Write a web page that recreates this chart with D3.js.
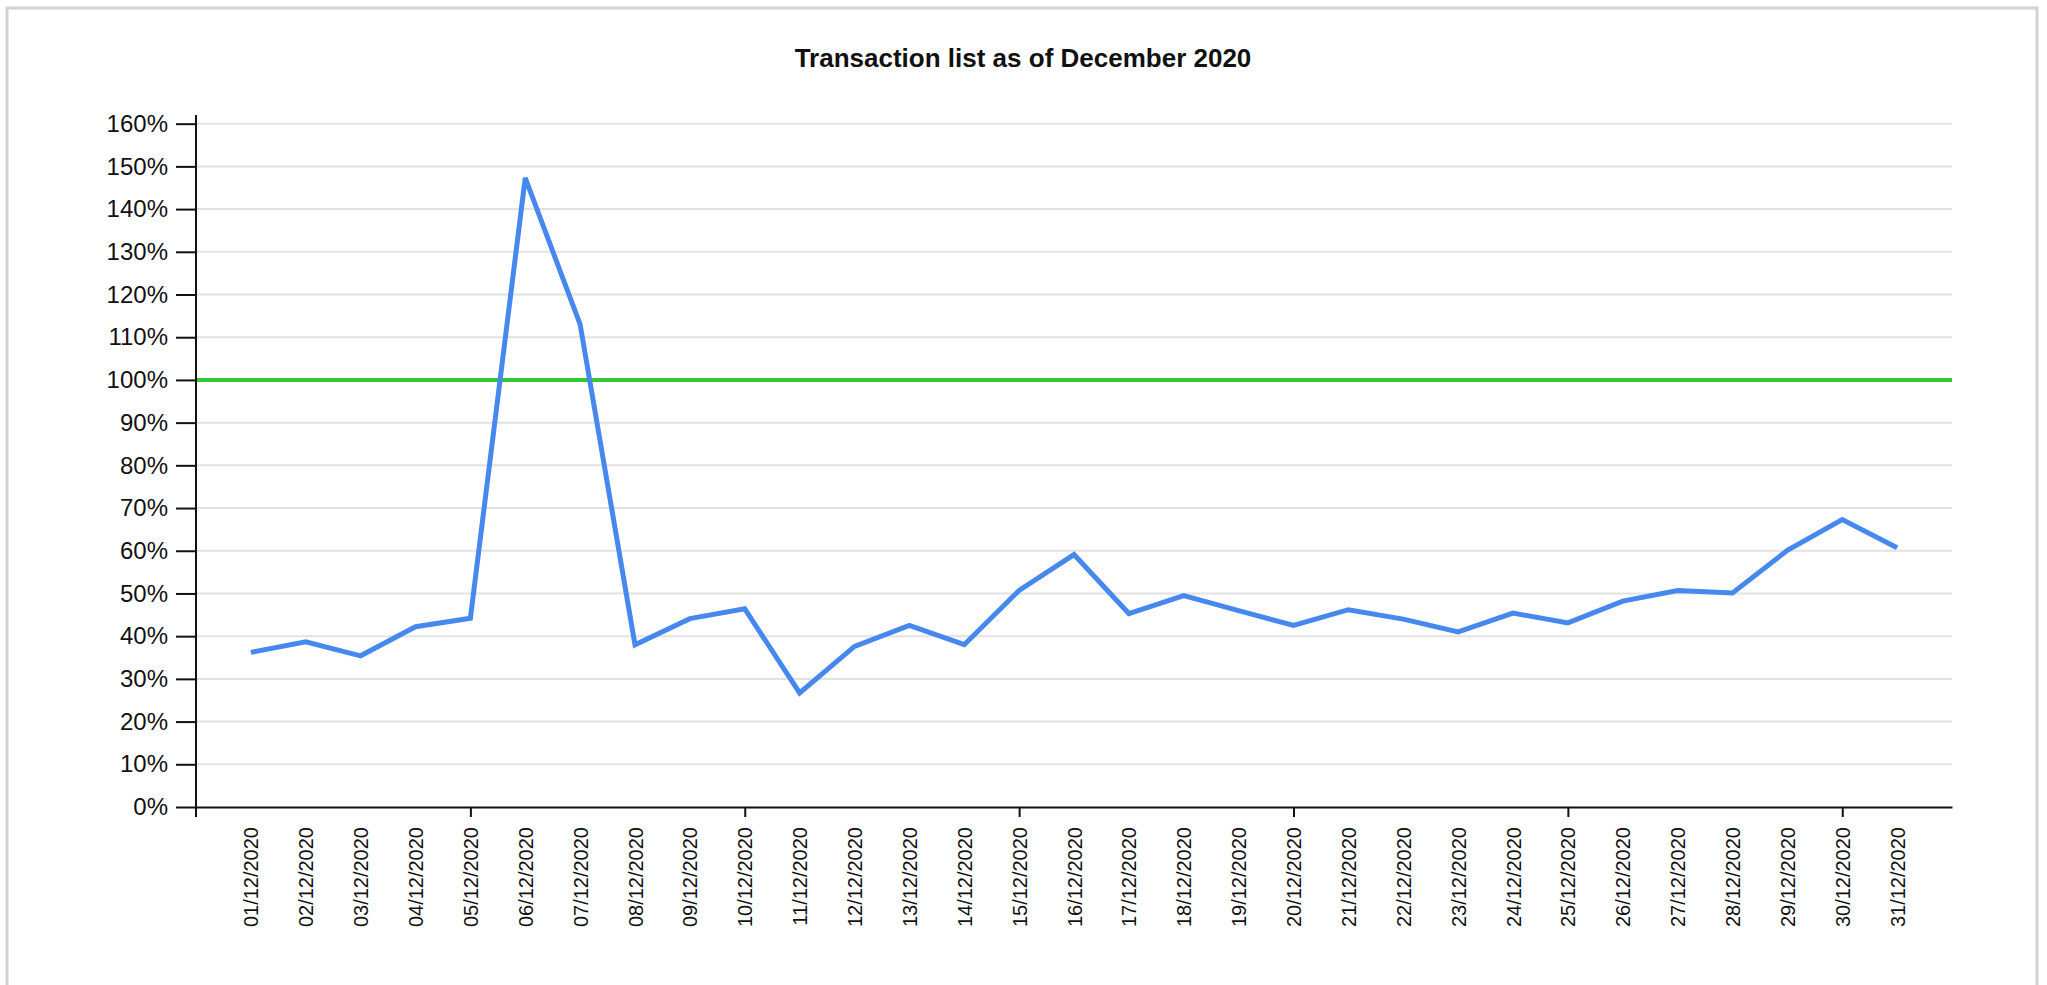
<!DOCTYPE html>
<html>
<head>
<meta charset="utf-8">
<script src="https://cdn.jsdelivr.net/npm/d3@7"></script>
<style>
  body { margin: 0; background: #fff; }
  svg text { font-family: "Liberation Sans", Arial, sans-serif; fill: #111; }
</style>
</head>
<body>
<svg id="chart" width="2047" height="985"></svg>
<script>
// days of december 2020
var days = ["01/12/2020","02/12/2020","03/12/2020","04/12/2020","05/12/2020","06/12/2020","07/12/2020",
  "08/12/2020","09/12/2020","10/12/2020","11/12/2020","12/12/2020","13/12/2020","14/12/2020",
  "15/12/2020","16/12/2020","17/12/2020","18/12/2020","19/12/2020","20/12/2020","21/12/2020",
  "22/12/2020","23/12/2020","24/12/2020","25/12/2020","26/12/2020","27/12/2020","28/12/2020",
  "29/12/2020","30/12/2020","31/12/2020"];
// percentage per day
var percent = [36.2, 38.7, 35.4, 42.2, 44.2, 147.3, 113.0, 38.0, 44.1, 46.4, 26.7, 37.6, 42.5, 38.0,
  50.7, 59.1, 45.3, 49.5, 46.0, 42.5, 46.2, 44.0, 41.0, 45.4, 43.1, 48.2, 50.7, 50.1, 60.1, 67.3, 60.7];
var target = 100;
var tickDays = ["05/12/2020","10/12/2020","15/12/2020","20/12/2020","25/12/2020","30/12/2020"];
var title = "Transaction list as of December 2020";

var svg = d3.select("#chart");

// grey frame
svg.append("rect")
    .attr("x", 7).attr("y", 8)
    .attr("width", 2030).attr("height", 1000)
    .attr("fill", "#fff")
    .attr("stroke", "#d2d2d2")
    .attr("stroke-width", 3);

svg.append("text")
    .attr("x", 1023).attr("y", 67)
    .attr("text-anchor", "middle")
    .style("font-size", "26px")
    .style("font-weight", "bold")
    .text(title);

var mLeft = 196, mRight = 1952, mBottom = 807, mTop = 115;

var x = d3.scalePoint()
    .domain(days)
    .range([mLeft, mRight])
    .padding(1);

var y = d3.scaleLinear()
    .domain([0, d3.max(percent) * 1.1])
    .range([mBottom, mTop]);

// gridlines
svg.append("g")
    .selectAll("line")
    .data(y.ticks(16).filter(function(d){ return d > 0; }))
    .join("line")
    .attr("x1", mLeft).attr("x2", mRight)
    .attr("y1", function(d){ return y(d); })
    .attr("y2", function(d){ return y(d); })
    .attr("stroke", "#e2e2e2")
    .attr("stroke-width", 2);

// target line
svg.append("line")
    .attr("x1", mLeft).attr("x2", mRight)
    .attr("y1", y(target)).attr("y2", y(target))
    .attr("stroke", "#33c933")
    .attr("stroke-width", 4);

// y axis
var yAx = svg.append("g")
    .attr("transform", "translate(" + mLeft + ",0)")
    .call(d3.axisLeft(y).ticks(16).tickSize(20).tickSizeOuter(0).tickPadding(8)
        .tickFormat(function(d){ return d + "%"; }));
yAx.select(".domain").attr("d", "M0," + (mBottom + 10) + "V" + mTop);
yAx.selectAll("path, line").attr("stroke", "#111").attr("stroke-width", 2);
yAx.selectAll("text").style("font-size", "24px").attr("fill", "#111");

// x axis: tick marks every 5 days
var xAx = svg.append("g")
    .attr("transform", "translate(0," + mBottom + ")")
    .call(d3.axisBottom(x).tickValues(tickDays).tickSize(10).tickSizeOuter(0).tickFormat(""));
xAx.selectAll("path, line").attr("stroke", "#111").attr("stroke-width", 2);

// x labels, every day, rotated
var xLab = svg.append("g")
    .attr("transform", "translate(0," + mBottom + ")")
    .call(d3.axisBottom(x).tickSize(0).tickSizeOuter(0));
xLab.select(".domain").remove();
xLab.selectAll("text")
    .attr("x", -20)
    .attr("y", 0)
    .attr("dy", "0.35em")
    .attr("transform", "rotate(-90)")
    .style("text-anchor", "end")
    .style("font-size", "20px")
    .attr("fill", "#111");

// the line
var line = d3.line()
    .x(function(d, i){ return x(days[i]); })
    .y(function(d){ return y(d); });

svg.append("path")
    .datum(percent)
    .attr("d", line)
    .attr("fill", "none")
    .attr("stroke", "#4688ee")
    .attr("stroke-width", 5)
    .attr("stroke-linejoin", "miter");
</script>
</body>
</html>
